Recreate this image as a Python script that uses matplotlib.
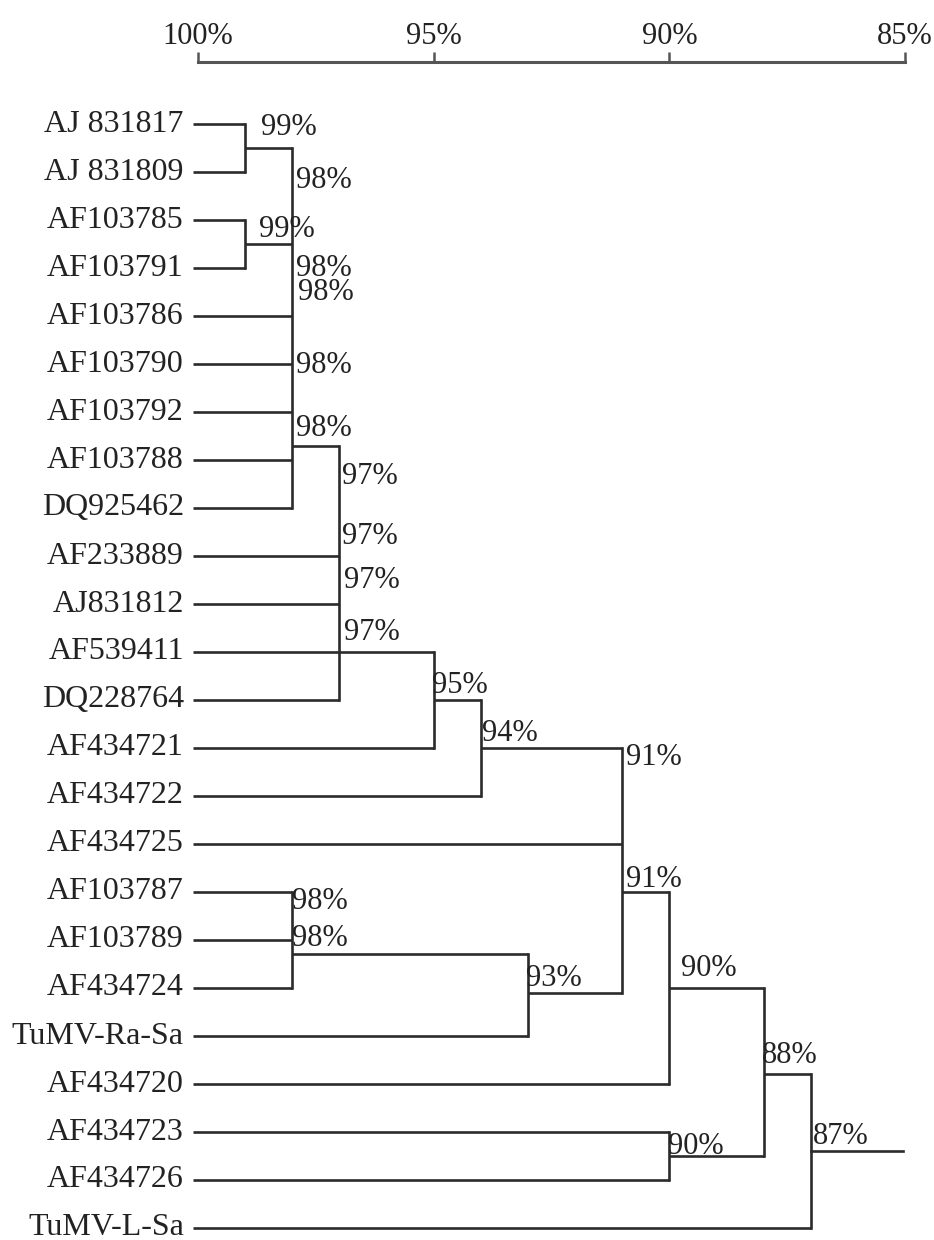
import matplotlib
matplotlib.use("Agg")
import matplotlib.pyplot as plt

# ---- data ----
leaf_labels = ["AJ 831817", "AJ 831809", "AF103785", "AF103791", "AF103786",
               "AF103790", "AF103792", "AF103788", "DQ925462", "AF233889",
               "AJ831812", "AF539411", "DQ228764", "AF434721", "AF434722",
               "AF434725", "AF103787", "AF103789", "AF434724", "TuMV-Ra-Sa",
               "AF434720", "AF434723", "AF434726", "TuMV-L-Sa"]

# internal nodes: similarity (%), children ("L<i>" leaf, "N<i>" node), outgoing row
node_sim = [99, 99, 98, 97, 95, 94, 98, 93, 91, 90, 90, 88, 87]
node_children = [
    ["L0", "L1"],
    ["L2", "L3"],
    ["N0", "N1", "L4", "L5", "L6", "L7", "L8"],
    ["N2", "L9", "L10", "L11", "L12"],
    ["N3", "L13"],
    ["N4", "L14"],
    ["L16", "L17", "L18"],
    ["N6", "L19"],
    ["N5", "L15", "N7"],
    ["N8", "L20"],
    ["L21", "L22"],
    ["N9", "N10"],
    ["N11", "L23"],
]
node_out_row = [0.5, 2.5, 6.7, 11.0, 12.0, 13.0, 17.3, 18.1, 16.0, 18.0, 21.5, 19.8, 21.4]
root_end = 85.05

axis_ticks = [100, 95, 90, 85]
axis_ticklabels = ["100%", "95%", "90%", "85%"]

# node percentage annotations: text, left x (%), row
ann_text = ["99%", "98%", "99%", "98%", "98%", "98%", "98%", "97%", "97%", "97%",
            "97%", "95%", "94%", "91%", "91%", "98%", "98%", "93%", "90%", "88%",
            "90%", "87%"]
ann_x = [98.67, 97.92, 98.71, 97.92, 97.88, 97.92, 97.92, 96.95, 96.95, 96.91,
         96.91, 95.04, 93.98, 90.91, 90.91, 98.01, 98.01, 93.05, 89.75, 88.03,
         90.02, 86.95]
ann_row = [0.08, 1.17, 2.2, 3.0, 3.5, 5.04, 6.35, 7.35, 8.6, 9.5,
           10.6, 11.7, 12.7, 13.2, 15.75, 16.2, 16.96, 17.8, 17.6, 19.4,
           21.3, 21.1]

# ---- drawing ----
plt.rcParams['font.family'] = ['Liberation Serif', 'DejaVu Serif']
W, H = 934, 1240
fig = plt.figure(figsize=(W / 100, H / 100), dpi=100)
left_px, right_px, top_px = 198, 905, 62
row0_px, row_step = 124, 48.0
top_row = (top_px - row0_px) / row_step
bot_row = (H - row0_px) / row_step
ax = fig.add_axes([left_px / W, 0, (right_px - left_px) / W, 1 - top_px / H])
ax.set_xlim(100, 85)
ax.set_ylim(bot_row, top_row)

lc = "#2b2b2b"
lw = 1.9


def pos(ref):
    kind, i = ref[0], int(ref[1:])
    if kind == "L":
        return 100.0, float(i)
    return float(node_sim[i]), node_out_row[i]


for i, ch in enumerate(node_children):
    x = node_sim[i]
    rows = []
    for c in ch:
        cx, cy = pos(c)
        rows.append(cy)
        start = cx + 0.1 if c[0] == "L" else cx
        ax.plot([start, x], [cy, cy], color=lc, lw=lw, solid_capstyle="butt", clip_on=False)
    ax.plot([x, x], [min(rows), max(rows)], color=lc, lw=lw, solid_capstyle="projecting", clip_on=False)

root = len(node_sim) - 1
ax.plot([node_sim[root], root_end], [node_out_row[root]] * 2, color=lc, lw=lw, clip_on=False)

for i, lab in enumerate(leaf_labels):
    ax.text(100.3, i, lab, ha="right", va="center", fontsize=23, color="#222222")

for t, x, r in zip(ann_text, ann_x, ann_row):
    ax.text(x, r, t, ha="left", va="center", fontsize=22, color="#222222")

for s in ["left", "right", "bottom"]:
    ax.spines[s].set_visible(False)
ax.spines["top"].set_color("#555555")
ax.spines["top"].set_linewidth(2.2)
ax.xaxis.set_ticks_position("top")
ax.set_xticks(axis_ticks)
ax.set_xticklabels(axis_ticklabels, fontsize=22, color="#222222")
ax.tick_params(axis="x", direction="out", length=7.5, width=1.8, color="#555555", pad=0.5)
ax.set_yticks([])
ax.patch.set_alpha(0)

fig.savefig("out.png", dpi=100)
